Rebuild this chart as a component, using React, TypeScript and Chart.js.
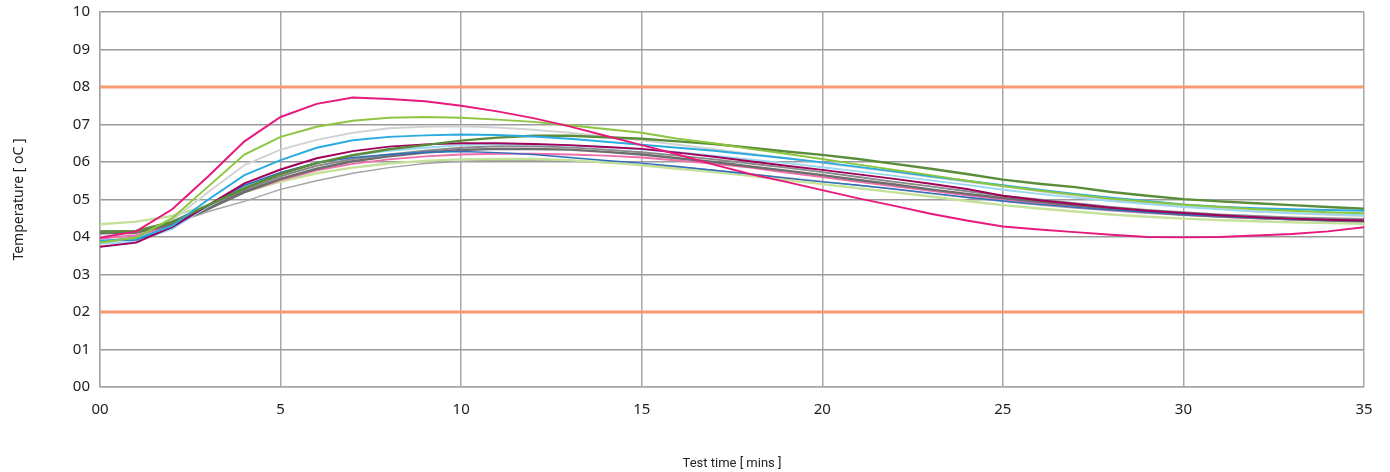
import React, { useEffect, useRef } from "react";
import { Chart, registerables } from "chart.js";

Chart.register(...registerables);

const minutes: number[] = Array.from({ length: 36 }, (_, i) => i);

const hotPink = [3.98, 4.15, 4.74, 5.62, 6.55, 7.2, 7.55, 7.72, 7.68, 7.62, 7.5, 7.35, 7.17, 6.95, 6.7, 6.45, 6.2, 5.93, 5.68, 5.47, 5.25, 5.03, 4.83, 4.62, 4.44, 4.28, 4.2, 4.13, 4.06, 4.0, 3.99, 4.0, 4.04, 4.08, 4.15, 4.26];
const yellowGreen = [3.85, 3.98, 4.5, 5.35, 6.2, 6.67, 6.94, 7.1, 7.18, 7.2, 7.18, 7.13, 7.07, 6.98, 6.88, 6.78, 6.62, 6.5, 6.35, 6.22, 6.08, 5.93, 5.79, 5.65, 5.5, 5.36, 5.24, 5.13, 5.02, 4.94, 4.86, 4.8, 4.74, 4.7, 4.66, 4.63];
const lightGray = [4.0, 4.1, 4.45, 5.2, 5.92, 6.33, 6.59, 6.78, 6.9, 6.94, 6.95, 6.92, 6.86, 6.78, 6.68, 6.58, 6.46, 6.34, 6.22, 6.1, 5.98, 5.85, 5.73, 5.6, 5.47, 5.35, 5.22, 5.1, 5.0, 4.9, 4.82, 4.75, 4.68, 4.63, 4.59, 4.56];
const cyan = [3.9, 3.95, 4.3, 5.0, 5.65, 6.05, 6.38, 6.58, 6.67, 6.71, 6.73, 6.72, 6.68, 6.62, 6.54, 6.46, 6.38, 6.3, 6.2, 6.1, 5.99, 5.87, 5.75, 5.62, 5.5, 5.38, 5.26, 5.15, 5.05, 4.96, 4.87, 4.81, 4.77, 4.74, 4.72, 4.7];
const darkGreen = [4.13, 4.16, 4.4, 4.85, 5.3, 5.68, 5.97, 6.18, 6.34, 6.45, 6.57, 6.65, 6.7, 6.7, 6.66, 6.62, 6.55, 6.48, 6.38, 6.28, 6.19, 6.08, 5.95, 5.82, 5.68, 5.53, 5.42, 5.33, 5.2, 5.1, 5.01, 4.95, 4.9, 4.85, 4.8, 4.75];
const darkMagenta = [3.74, 3.85, 4.27, 4.85, 5.43, 5.8, 6.1, 6.29, 6.41, 6.47, 6.5, 6.5, 6.48, 6.45, 6.4, 6.35, 6.25, 6.14, 6.02, 5.9, 5.79, 5.67, 5.55, 5.42, 5.28, 5.1, 4.98, 4.88, 4.78, 4.7, 4.64, 4.58, 4.53, 4.49, 4.46, 4.44];
const midGray = [4.16, 4.17, 4.38, 4.8, 5.25, 5.62, 5.9, 6.08, 6.2, 6.3, 6.38, 6.42, 6.42, 6.39, 6.33, 6.26, 6.17, 6.07, 5.96, 5.85, 5.73, 5.6, 5.47, 5.35, 5.22, 5.1, 5.0, 4.9, 4.8, 4.72, 4.66, 4.6, 4.56, 4.52, 4.5, 4.48];
const darkGray = [4.1, 4.12, 4.33, 4.75, 5.2, 5.55, 5.82, 6.02, 6.15, 6.25, 6.32, 6.35, 6.35, 6.33, 6.27, 6.2, 6.1, 6.0, 5.88, 5.77, 5.65, 5.52, 5.4, 5.27, 5.15, 5.04, 4.94, 4.84, 4.75, 4.67, 4.6, 4.55, 4.51, 4.47, 4.44, 4.42];
const pink = [3.95, 4.05, 4.3, 4.75, 5.2, 5.52, 5.78, 5.95, 6.07, 6.15, 6.2, 6.22, 6.22, 6.2, 6.17, 6.12, 6.04, 5.95, 5.85, 5.72, 5.6, 5.47, 5.35, 5.23, 5.11, 5.0, 4.9, 4.8, 4.72, 4.65, 4.59, 4.54, 4.5, 4.47, 4.45, 4.45];
const mediumBlue = [3.9, 3.92, 4.25, 4.85, 5.38, 5.72, 5.98, 6.12, 6.2, 6.26, 6.28, 6.25, 6.2, 6.12, 6.04, 5.97, 5.88, 5.78, 5.68, 5.57, 5.47, 5.38, 5.28, 5.17, 5.06, 4.96, 4.87, 4.79, 4.72, 4.66, 4.6, 4.55, 4.51, 4.48, 4.45, 4.43];
const lightGreen = [4.34, 4.41, 4.56, 4.85, 5.2, 5.48, 5.7, 5.85, 5.96, 6.03, 6.07, 6.08, 6.08, 6.05, 5.99, 5.91, 5.82, 5.73, 5.63, 5.52, 5.41, 5.3, 5.19, 5.08, 4.96, 4.85, 4.76, 4.68, 4.6, 4.54, 4.49, 4.45, 4.42, 4.39, 4.37, 4.35];
const silver = [3.88, 4.0, 4.35, 4.68, 4.95, 5.27, 5.5, 5.7, 5.85, 5.96, 6.02, 6.05, 6.05, 6.03, 5.98, 5.93, 5.86, 5.78, 5.68, 5.58, 5.48, 5.38, 5.27, 5.16, 5.05, 4.95, 4.85, 4.77, 4.7, 4.63, 4.58, 4.53, 4.49, 4.46, 4.44, 4.42];
const lightBlue = [3.82, 3.88, 4.22, 4.82, 5.35, 5.7, 5.98, 6.18, 6.3, 6.38, 6.45, 6.48, 6.47, 6.44, 6.4, 6.34, 6.26, 6.17, 6.07, 5.97, 5.86, 5.75, 5.63, 5.51, 5.39, 5.26, 5.15, 5.05, 4.96, 4.88, 4.8, 4.74, 4.68, 4.64, 4.61, 4.58];

const upperLimit = 8;
const lowerLimit = 2;
const xTicks = [0, 5, 10, 15, 20, 25, 30, 35];

const seriesList: { values: number[]; color: string; width: number }[] = [
  { values: hotPink, color: "#e6197d", width: 2 },
  { values: yellowGreen, color: "#8cc63e", width: 2 },
  { values: cyan, color: "#29abe2", width: 2 },
  { values: darkGreen, color: "#5b8c3a", width: 2.5 },
  { values: darkMagenta, color: "#a0005a", width: 2 },
  { values: mediumBlue, color: "#2e6fbf", width: 1.5 },
  { values: lightBlue, color: "#9ad8f2", width: 2 },
  { values: darkGray, color: "#6d6d6d", width: 2.5 },
  { values: midGray, color: "#8a8a8a", width: 2 },
  { values: pink, color: "#f06eaa", width: 2 },
  { values: lightGray, color: "#d2d2d2", width: 2 },
  { values: lightGreen, color: "#c5e29a", width: 2.5 },
  { values: silver, color: "#a4a4a4", width: 1.5 },
];

const pad2 = (v: number) => (v < 10 ? "0" + v : String(v));

export default function App() {
  const ref = useRef<HTMLCanvasElement>(null);
  useEffect(() => {
    document.body.style.margin = "0";
    const ctx = ref.current!;
    const datasets: any[] = [
      {
        data: [{ x: 0, y: upperLimit }, { x: 35, y: upperLimit }],
        borderColor: "#f59a72",
        borderWidth: 3,
        pointRadius: 0,
      },
      {
        data: [{ x: 0, y: lowerLimit }, { x: 35, y: lowerLimit }],
        borderColor: "#f59a72",
        borderWidth: 3,
        pointRadius: 0,
      },
      ...seriesList.map((s) => ({
        data: s.values.map((v, i) => ({ x: minutes[i], y: v })),
        borderColor: s.color,
        borderWidth: s.width,
        pointRadius: 0,
        tension: 0,
      })),
    ];
    const chart = new Chart(ctx, {
      type: "line",
      data: { datasets },
      options: {
        animation: false,
        responsive: false,
        maintainAspectRatio: false,
        layout: { padding: { top: 12, right: 26, left: 0, bottom: 0 } },
        plugins: { legend: { display: false }, tooltip: { enabled: false } },
        scales: {
          x: {
            type: "linear",
            min: 0,
            max: 35,
            afterBuildTicks: (scale: any) => {
              scale.ticks = xTicks.map((v) => ({ value: v }));
            },
            afterFit: (scale: any) => {
              scale.height = 85;
              scale.paddingLeft = 0;
              scale.paddingRight = 0;
            },
            grid: { color: "#a8a8a8", lineWidth: 1.5, drawTicks: false },
            border: { color: "#a8a8a8", width: 1.5 },
            ticks: {
              padding: 14,
              color: "#222",
              font: { family: "'Noto Sans', sans-serif", size: 15 },
              callback: (v: any) => (v === 0 ? "00" : String(v)),
              maxRotation: 0,
            },
            title: {
              display: true,
              text: "Test time [ mins ]",
              color: "#222",
              font: { family: "'Roboto', sans-serif", size: 13 },
              padding: { top: 0, bottom: 0 },
            },
          },
          y: {
            type: "linear",
            min: 0,
            max: 10,
            afterBuildTicks: (scale: any) => {
              scale.ticks = Array.from({ length: 11 }, (_, i) => ({ value: i }));
            },
            afterFit: (scale: any) => {
              scale.width = 100;
              scale.paddingTop = 0;
              scale.paddingBottom = 0;
            },
            grid: { color: "#9a9a9a", lineWidth: 1.5, drawTicks: false },
            border: { color: "#a8a8a8", width: 1.5 },
            ticks: {
              padding: 10,
              color: "#222",
              font: { family: "'Noto Sans', sans-serif", size: 15 },
              callback: (v: any) => pad2(Number(v)),
            },
            title: {
              display: true,
              text: "Temperature [ oC ]",
              color: "#222",
              font: { family: "'Noto Sans', sans-serif", size: 14 },
              padding: { top: 11, bottom: 0 },
            },
          },
        },
      },
    });
    return () => chart.destroy();
  }, []);
  return (
    <div style={{ width: 1390, height: 472 }}>
      <canvas ref={ref} width={1390} height={472} style={{ display: "block" }} />
    </div>
  );
}
